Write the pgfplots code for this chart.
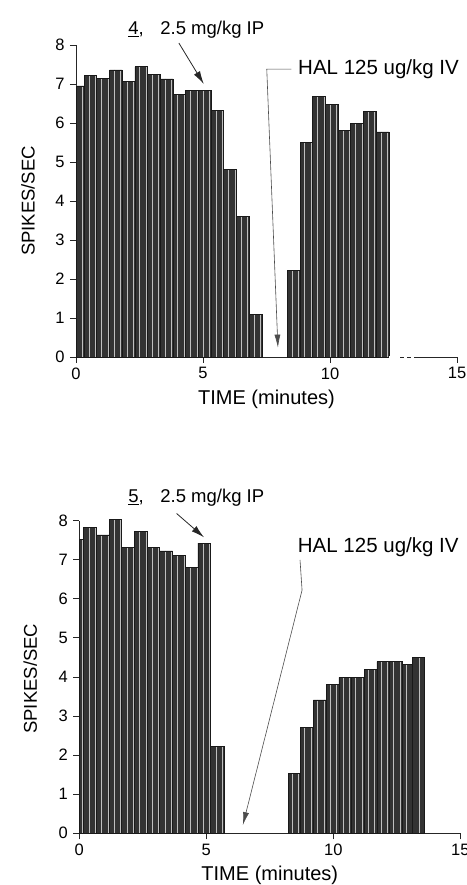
\documentclass[border=0pt]{standalone}
\usepackage{fontspec}
\setmainfont{Liberation Sans}
\usepackage{pgfplots}
\pgfplotsset{compat=1.18}
\usetikzlibrary{arrows.meta,patterns.meta}

\newcommand{\fs}[1]{\fontsize{#1}{#1}\selectfont}

\pgfplotsset{
  spk/.style={
    scale only axis, width=381pt,
    xmin=0, xmax=15, ymin=0, ymax=8,
    axis x line*=bottom, axis y line*=left,
    axis line style={line width=0.8pt, black!85},
    xtick={0,5,10,15}, ytick={0,1,...,8},
    tick align=outside, major tick length=6pt,
    tick style={line width=0.8pt, black!85},
    /pgf/number format/assume math mode=true,
    tick label style={font=\fs{16.5}},
    yticklabel style={xshift=-2pt},
    xticklabel style={yshift=-1pt},
    xlabel={TIME (minutes)}, ylabel={SPIKES/SEC},
    xlabel style={font=\fs{20}, at={(axis description cs:0.5,-0.135)}, anchor=center},
    ylabel style={font=\fs{18.5}, anchor=center},
    clip=false,
  },
  bars/.style={ybar interval, fill=black!80, draw=black!90, line width=0.7pt,
    postaction={pattern={Lines[angle=90,distance=6.35pt,line width=0.7pt]}, pattern color=black!25}},
}

\begin{document}
\begin{tikzpicture}
\path[use as bounding box] (0,0) rectangle (466pt,885pt);

% ---------- top panel ----------
\begin{axis}[spk, height=312pt, at={(76pt,528pt)}, anchor=south west,
  ylabel style={at={(axis description cs:-0.126,0.5)}}]
\addplot[bars] coordinates {
 (0,6.95) (0.32,7.23) (0.82,7.14) (1.32,7.36) (1.82,7.06) (2.32,7.44)
 (2.82,7.25) (3.32,7.13) (3.82,6.73) (4.32,6.83) (4.82,6.83) (5.32,6.33)
 (5.82,4.82) (6.32,3.61) (6.82,1.09) (7.32,0)};
\addplot[bars] coordinates {
 (8.32,2.21) (8.82,5.5) (9.32,6.69) (9.82,6.48) (10.32,5.8) (10.82,5.99)
 (11.32,6.29) (11.82,5.77) (12.32,0)};
\draw[white, line width=2pt] (axis cs:12.34,0) -- (axis cs:12.65,0);
\draw[white, line width=2pt, dash pattern=on 3pt off 4pt] (axis cs:12.65,0) -- (axis cs:13.45,0);
\node[anchor=west, font=\fs{18.5}, inner sep=0pt] at (axis cs:2.05,8.38) {\underline{4},\hspace{0.9em}2.5 mg/kg IP};
\draw[-{Latex[length=13pt,width=7pt]}, line width=0.8pt, black!85] (axis cs:4.05,8.05) -- (axis cs:5.03,7.0);
\node[anchor=west, font=\fs{20.5}, inner sep=0pt] at (axis cs:8.74,7.38) {HAL 125 ug/kg IV};
\draw[black!70, line width=0.6pt, -{Latex[length=13pt,width=6pt]}] (axis cs:8.48,7.38) -- (axis cs:7.51,7.38) -- (axis cs:7.95,0.24);
\end{axis}

% ---------- bottom panel ----------
\begin{axis}[spk, height=312.8pt, at={(79.3pt,51.7pt)}, anchor=south west,
  ylabel style={at={(axis description cs:-0.129,0.494)}}]
\addplot[bars] coordinates {
 (0,7.51) (0.17,7.82) (0.67,7.63) (1.17,8.03) (1.67,7.31) (2.17,7.71)
 (2.67,7.31) (3.17,7.22) (3.67,7.1) (4.17,6.8) (4.67,7.42) (5.17,2.23) (5.72,0)};
\addplot[bars] coordinates {
 (8.22,1.53) (8.72,2.71) (9.22,3.41) (9.72,3.81) (10.22,3.99) (10.72,3.99)
 (11.22,4.19) (11.72,4.39) (12.22,4.39) (12.72,4.32) (13.12,4.5) (13.6,0)};
\node[anchor=west, font=\fs{18.5}, inner sep=0pt] at (axis cs:1.92,8.58) {\underline{5},\hspace{0.9em}2.5 mg/kg IP};
\draw[-{Latex[length=13pt,width=7pt]}, line width=0.8pt, black!85] (axis cs:3.83,8.18) -- (axis cs:4.91,7.57);
\node[anchor=west, font=\fs{20.5}, inner sep=0pt] at (axis cs:8.6,7.32) {HAL 125 ug/kg IV};
\draw[black!70, line width=0.6pt, -{Latex[length=13pt,width=6pt]}] (axis cs:8.69,6.99) -- (axis cs:8.77,6.22) -- (axis cs:6.44,0.21);
\end{axis}
\end{tikzpicture}
\end{document}
